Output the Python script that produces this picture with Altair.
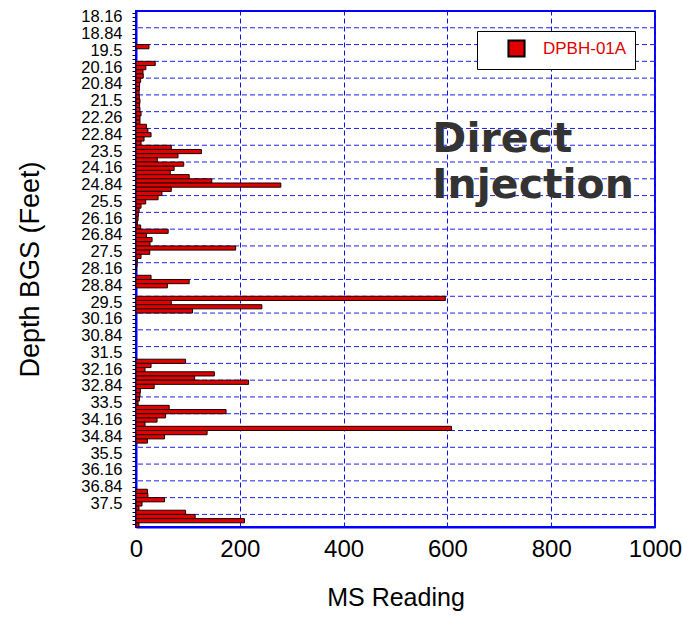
import json
import altair as alt
import pandas as pd

DEPTHS = [
    "18.0", "18.16", "18.33", "18.5", "18.66", "18.84",
    "19.0", "19.16", "19.33", "19.5", "19.66", "19.84",
    "20.0", "20.16", "20.33", "20.5", "20.66", "20.84",
    "21.0", "21.16", "21.33", "21.5", "21.66", "21.84",
    "22.0", "22.26", "22.33", "22.5", "22.66", "22.84",
    "23.0", "23.16", "23.33", "23.5", "23.66", "23.84",
    "24.0", "24.16", "24.33", "24.5", "24.66", "24.84",
    "25.0", "25.16", "25.33", "25.5", "25.66", "25.84",
    "26.0", "26.16", "26.33", "26.5", "26.66", "26.84",
    "27.0", "27.16", "27.33", "27.5", "27.66", "27.84",
    "28.0", "28.16", "28.33", "28.5", "28.66", "28.84",
    "29.0", "29.16", "29.33", "29.5", "29.66", "29.84",
    "30.0", "30.16", "30.33", "30.5", "30.66", "30.84",
    "31.0", "31.16", "31.33", "31.5", "31.66", "31.84",
    "32.0", "32.16", "32.33", "32.5", "32.66", "32.84",
    "33.0", "33.16", "33.33", "33.5", "33.66", "33.84",
    "34.0", "34.16", "34.33", "34.5", "34.66", "34.84",
    "35.0", "35.16", "35.33", "35.5", "35.66", "35.84",
    "36.0", "36.16", "36.33", "36.5", "36.66", "36.84",
    "37.0", "37.16", "37.33", "37.5", "37.66", "37.84",
    "38.0", "38.16", "38.33",
]

MS = [
    0, 0, 0, 0, 0, 0, 0, 0,
    25, 0, 0, 0,
    37, 19, 13.5, 14, 9, 7, 6.5, 6,
    6.5, 7.7, 7, 7.7, 9.7, 7.7, 7.7, 20, 23, 29, 15.5, 9.7,
    68, 126, 81, 41, 92, 73.5, 66, 102.5,
    146, 279, 68, 50, 42.5, 18.7, 9.7, 6,
    4.5, 4, 2.5, 9, 62, 20, 31, 27,
    192, 26.5, 9.7, 2.5, 2, 0.5, 0, 29,
    102.5, 60.5, 0, 0, 596, 68, 242.5, 109,
    0, 0, 0, 0, 0, 0, 0, 0, 0, 0, 0,
    95.5, 29, 17.4, 151, 113, 217, 35, 8.4, 7.7, 6.5, 4, 64,
    173.5, 57, 40.6, 17.4, 608, 137, 55, 22,
    0, 0, 0, 0, 0, 0, 0, 0, 0, 0, 0,
    22, 23, 55, 11.6, 5.8, 95.5, 114, 209, 5.8,
]

LABELS = ["18.16", "18.84", "19.5", "20.16", "20.84", "21.5", "22.26", "22.84",
          "23.5", "24.16", "24.84", "25.5", "26.16", "26.84", "27.5", "28.16",
          "28.84", "29.5", "30.16", "30.84", "31.5", "32.16", "32.84", "33.5",
          "34.16", "34.84", "35.5", "36.16", "36.84", "37.5"]

GRID_AT = ["18.66", "19.33", "20.0", "20.66", "21.33", "22.0", "22.66", "23.33",
           "24.0", "24.66", "25.33", "26.0", "26.66", "27.33", "28.0", "28.66",
           "29.33", "30.0", "30.66", "31.33", "32.0", "32.66", "33.33", "34.0",
           "34.66", "35.33", "36.0", "36.66", "37.33", "38.0"]

X_TICKS = [0, 200, 400, 600, 800, 1000]
SERIES = "DPBH-01A"
NOTE_LINES = ["Direct", "Injection"]
NOTE_X = [571, 571]
NOTE_AT = ["23.5", "25.33"]

bars_df = pd.DataFrame({"depth": DEPTHS, "ms": MS, "well": SERIES})
bars_df = bars_df[bars_df["ms"] > 0]
grid_df = pd.DataFrame({"depth": GRID_AT})
note_df = pd.DataFrame({"depth": NOTE_AT, "ms": NOTE_X, "text": NOTE_LINES})

BLUE = "#0000ff"
FONT = "Liberation Sans"

y_scale = alt.Scale(domain=DEPTHS, paddingInner=0, paddingOuter=0)
x_scale = alt.Scale(domain=[0, 1000], nice=False)

label_expr = "indexof(" + json.dumps(LABELS) + ", datum.value) >= 0 ? datum.value : ''"

x_axis = alt.Axis(values=X_TICKS, format="d", title="MS Reading", labelFontSize=24, labelFont=FONT,
                  labelColor="black", tickSize=0, labelPadding=10, labelFlush=False,
                  grid=True, gridColor="#1010ee", gridDash=[5, 3], gridWidth=1,
                  domainColor=BLUE, domainWidth=2,
                  titleFontSize=25, titleFont=FONT, titleFontWeight="normal",
                  titleColor="black", titlePadding=24)
y_axis = alt.Axis(title="Depth BGS (Feet)", labelExpr=label_expr, labelFontSize=16.5,
                  labelFont=FONT, labelColor="black", tickSize=4, tickColor="black",
                  labelPadding=10, domainColor=BLUE, domainWidth=2, grid=False,
                  titleFontSize=27, titleFont=FONT, titleFontWeight="normal",
                  titleColor="black", titlePadding=36)

grid = alt.Chart(grid_df).mark_rule(color="#2020ee", strokeDash=[5, 3], strokeWidth=1).encode(
    y=alt.Y("depth:N", bandPosition=0, scale=y_scale, axis=y_axis)
)

bars = alt.Chart(bars_df).mark_bar(stroke="#1a0000", strokeWidth=1).encode(
    x=alt.X("ms:Q", scale=x_scale, axis=x_axis),
    y=alt.Y("depth:N", scale=y_scale, axis=y_axis),
    color=alt.Color("well:N", scale=alt.Scale(range=["#e00000"]),
                    legend=alt.Legend(title=None, orient="none", legendX=341, legendY=20,
                                      symbolType="square", symbolSize=260,
                                      symbolStrokeColor="black", symbolStrokeWidth=2,
                                      symbolOffset=22, labelOffset=17, labelFontSize=17,
                                      labelFont=FONT, labelColor="#e00000", padding=8,
                                      strokeColor="black", fillColor="white")),
)

note = alt.Chart(note_df).mark_text(font="DejaVu Sans", fontWeight="bold", fontSize=41,
                                    color="#333333", align="left", baseline="alphabetic").encode(
    x=alt.X("ms:Q", scale=x_scale, axis=x_axis),
    y=alt.Y("depth:N", scale=y_scale, axis=y_axis),
    text="text:N",
)

chart = alt.layer(grid, bars, note).properties(
    width=519, height=516,
    autosize=alt.AutoSizeParams(type="none"),
    padding={"left": 136, "top": 11, "right": 28, "bottom": 91},
).configure_view(stroke=BLUE, strokeWidth=2)

chart.save("out.html", embed_options={"renderer": "svg", "actions": False})
